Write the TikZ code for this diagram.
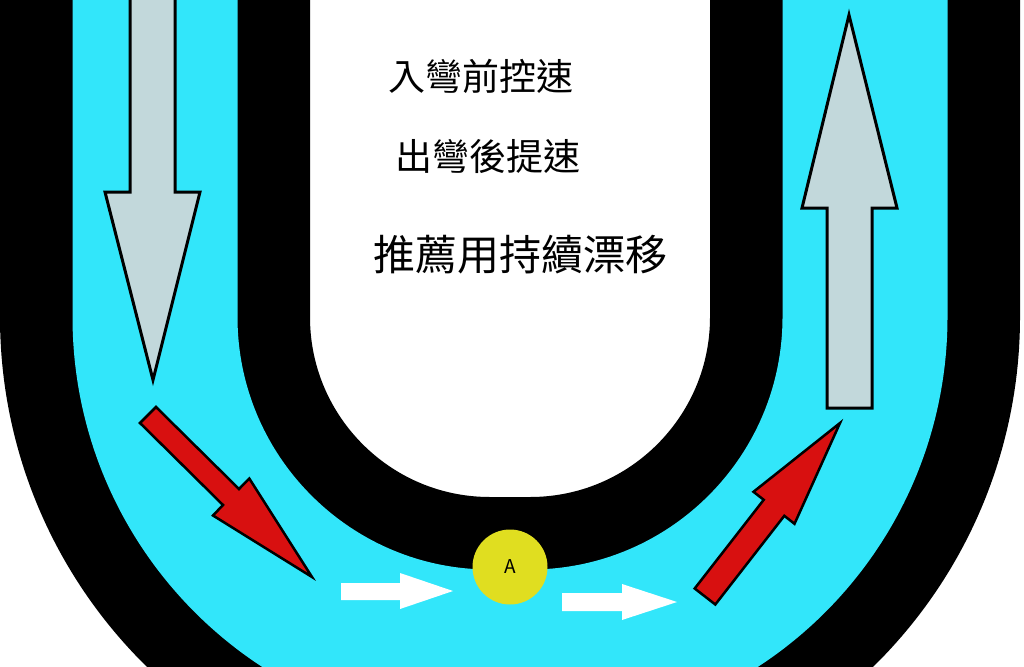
\documentclass[tikz,border=0pt]{standalone}
\usepackage{fontspec}
\newfontfamily\cjk{Noto Sans CJK TC}
\definecolor{lane}{RGB}{50,230,250}
\definecolor{arrowgray}{RGB}{194,216,219}
\definecolor{arrowred}{RGB}{216,16,16}
\definecolor{apexyellow}{RGB}{224,222,32}
\tikzstyle{track}=[line width=72.5, double=lane, double distance=165]
\tikzstyle{grayarrow}=[fill=arrowgray, draw=black, line width=3]
\tikzstyle{redarrow}=[fill=arrowred, draw=black, line width=2.5]
\tikzstyle{hint}=[inner sep=0, font=\cjk\fontsize{37}{40}\selectfont]

\begin{document}
\begin{tikzpicture}[x=1pt, y=-1pt]
    \useasboundingbox (0,0) rectangle (1024,666);
    \clip (0,0) rectangle (1024,666);
% Track
    \draw[track] (155,-20) -- (155,317) arc (180:90:335) -- (530,652) arc (90:0:335) -- (865,-20);
% Straights
    \draw[grayarrow] (130,-5) -- (130,192) -- (105,192) -- (153,380) -- (200,192) -- (175,192) -- (175,-5) -- cycle;
    \draw[grayarrow] (849,15) -- (897,208) -- (872,208) -- (872,408) -- (827,408) -- (827,208) -- (802,208) -- cycle;
% Corner entry and exit
    \draw[redarrow] (140,423) -- (223,505) -- (213,515.5) -- (312,577) -- (249.3,478.5) -- (239,489) -- (156,407) -- cycle;
    \draw[redarrow] (694.7,588.5) -- (763.7,499.8) -- (753.5,491.8) -- (840,423) -- (794.5,523.8) -- (784.3,515.8) -- (715.3,604.5) -- cycle;
% Apex
    \fill[white] (341,583) -- (400,583) -- (400,573) -- (453,591) -- (400,609) -- (400,600) -- (341,600) -- cycle;
    \fill[white] (562,593) -- (622,593) -- (622,584) -- (677,602) -- (622,620) -- (622,611) -- (562,611) -- cycle;
    \node[circle, fill=apexyellow, minimum size=75, inner sep=0, font=\cjk\fontsize{19}{20}\selectfont] (apex) at (510,567) {A};
% Hints
    \node[hint] (entry) at (481,76) {入彎前控速};
    \node[hint] (exit) at (488,156) {出彎後提速};
    \node[hint, font=\cjk\fontsize{42}{44}\selectfont] (drift) at (520,255) {推薦用持續漂移};
\end{tikzpicture}
\end{document}
